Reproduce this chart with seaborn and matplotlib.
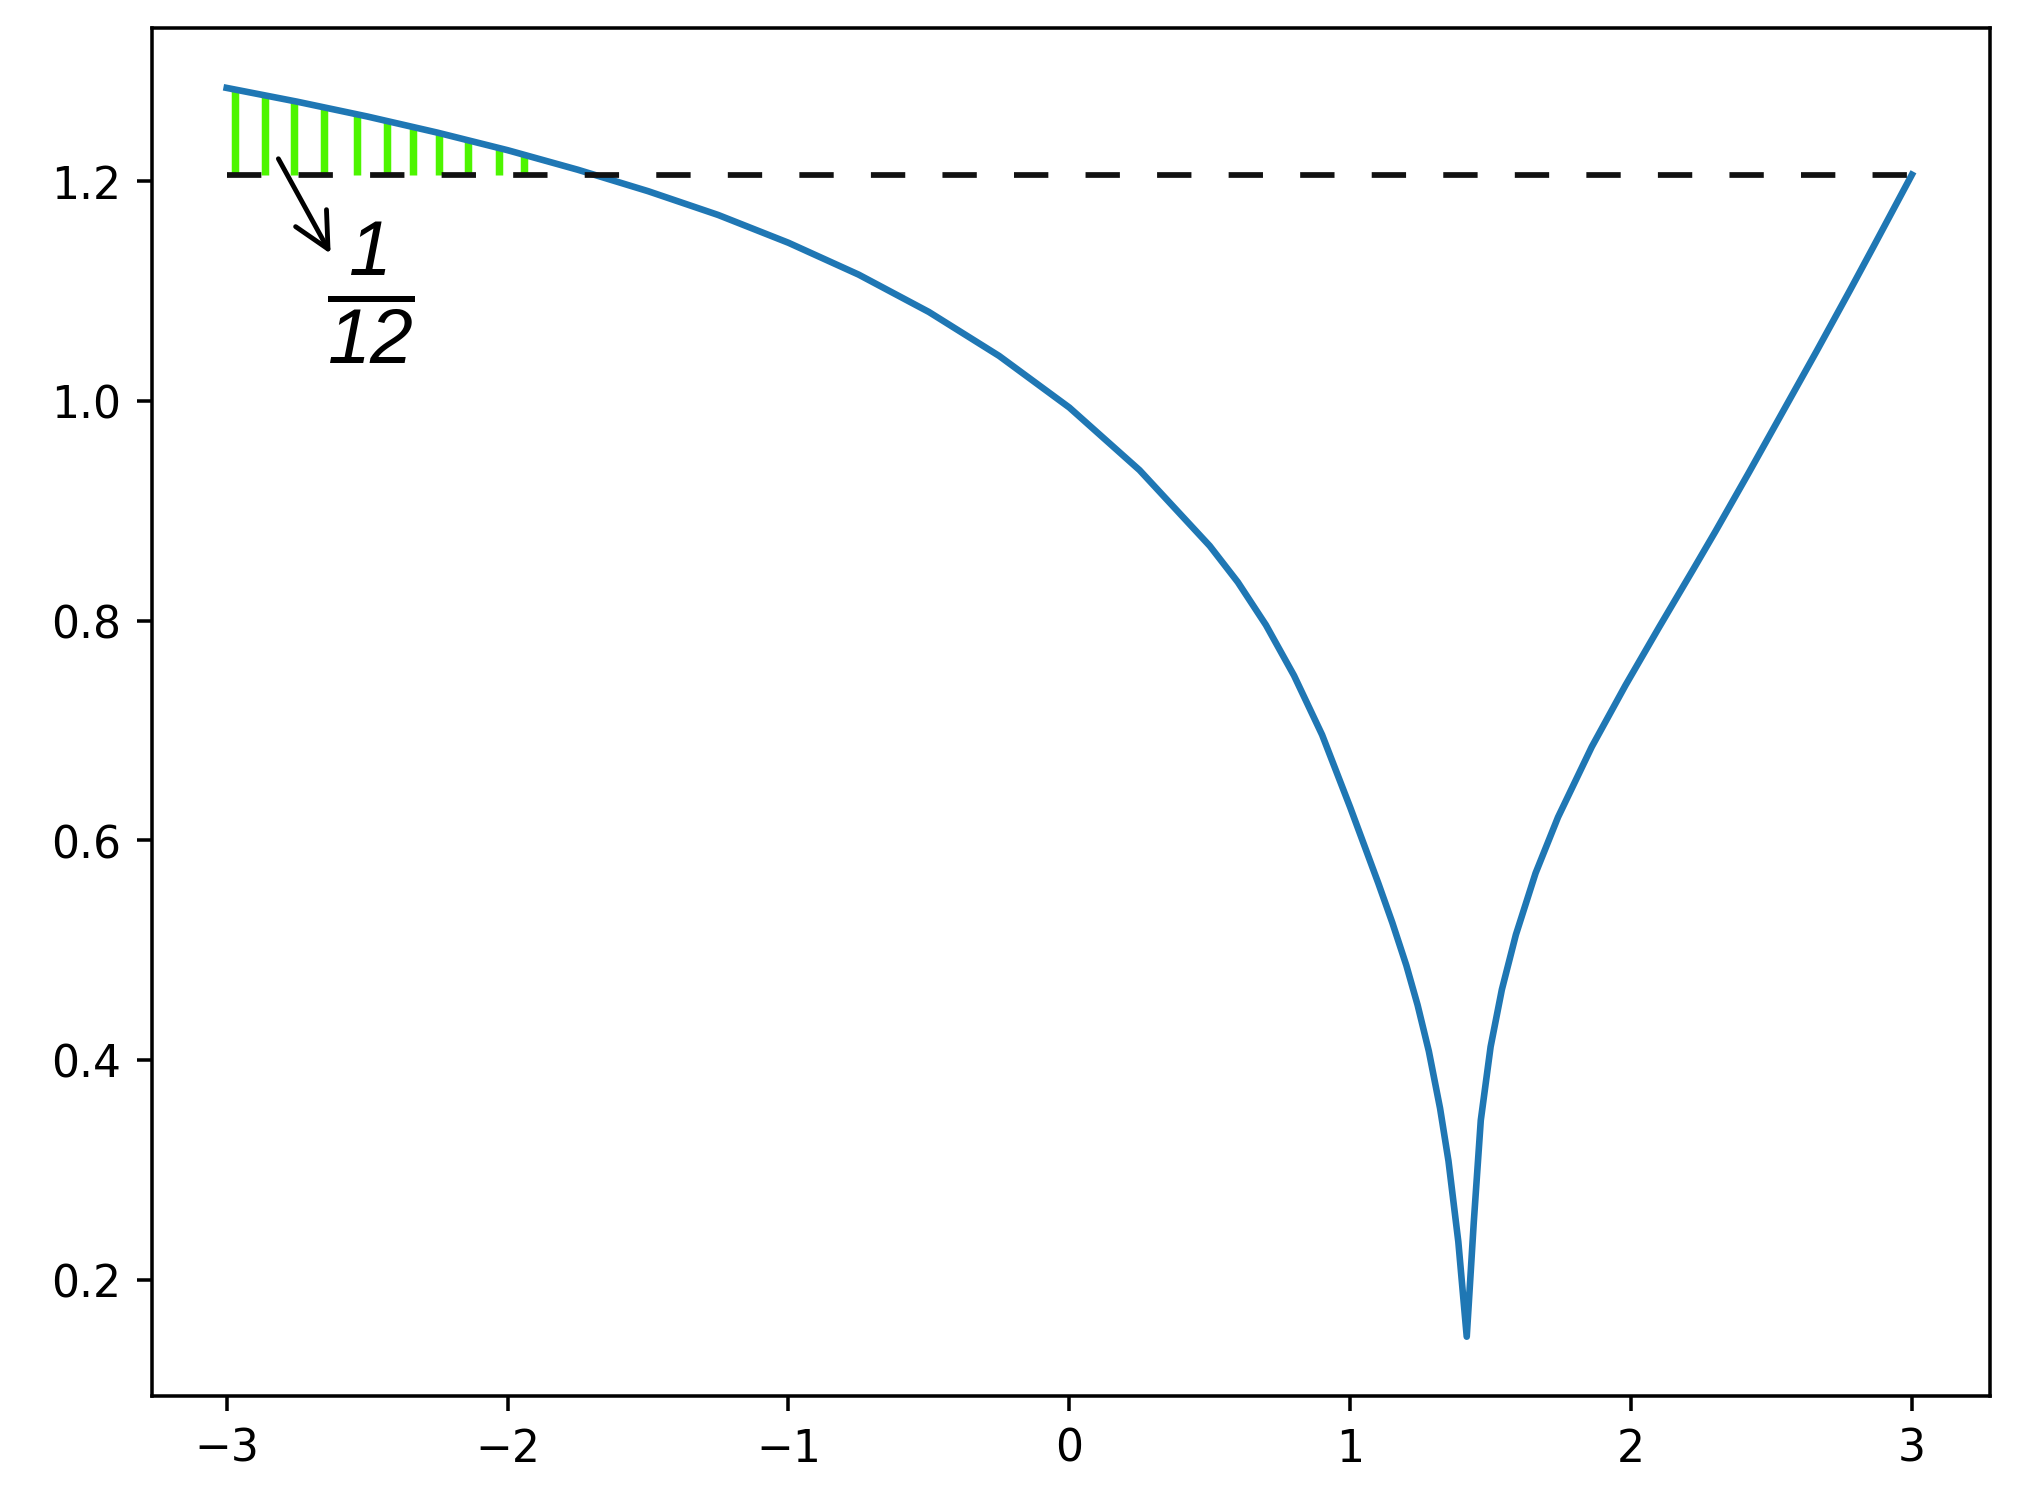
import numpy as np
import matplotlib
matplotlib.use("Agg")
import matplotlib.pyplot as plt
import seaborn as sns
import pandas as pd

# ---- data ----
curve_x = [-3.00, -2.75, -2.50, -2.25, -2.00, -1.75, -1.50, -1.25, -1.00, -0.75,
           -0.50, -0.25, 0.00, 0.25, 0.50, 0.60, 0.70, 0.80, 0.90, 1.00,
           1.10, 1.15, 1.20, 1.24, 1.28, 1.32, 1.35, 1.385, 1.415, 1.44,
           1.465, 1.50, 1.54, 1.59, 1.66, 1.74, 1.86, 1.98, 2.10, 2.22,
           2.30, 2.42, 2.54, 2.66, 2.78, 2.86, 2.93, 3.00]
curve_y = [1.285, 1.2725, 1.259, 1.2443, 1.2283, 1.2105, 1.191, 1.1693, 1.144, 1.115,
           1.081, 1.041, 0.994, 0.937, 0.868, 0.835, 0.796, 0.750, 0.696, 0.630,
           0.561, 0.525, 0.486, 0.450, 0.408, 0.356, 0.308, 0.2345, 0.148, 0.252,
           0.345, 0.412, 0.464, 0.514, 0.570, 0.621, 0.685, 0.741, 0.794, 0.846,
           0.881, 0.935, 0.990, 1.045, 1.101, 1.139, 1.1725, 1.206]
baseline_y = 1.206
green_x = [-2.97, -2.865, -2.76, -2.655, -2.535, -2.43, -2.335, -2.245, -2.14, -2.03, -1.94]
x_ticks = [-3, -2, -1, 0, 1, 2, 3]
y_ticks = [0.2, 0.4, 0.6, 0.8, 1.0, 1.2]
label_text = r"$\frac{1}{12}$"
arrow_tail = (-2.816, 1.2205)
arrow_head = (-2.630, 1.134)
label_pos = (-2.486, 1.098)

plt.rcParams["mathtext.fontset"] = "custom"
plt.rcParams["mathtext.it"] = "Liberation Sans:italic"
plt.rcParams["mathtext.rm"] = "Liberation Sans:italic"

fig = plt.figure(figsize=(2030 / 317, 1513 / 317), dpi=317)
ax = fig.add_axes([151.7 / 2030, 1 - 1397 / 1513, (1990 - 151.7) / 2030, (1397 - 28.5) / 1513])

df = pd.DataFrame({"x": curve_x, "y": curve_y})
sns.lineplot(data=df, x="x", y="y", ax=ax, color="#1f77b4", lw=1.5, zorder=2)

green_top = np.interp(green_x, curve_x, curve_y)
ax.vlines(green_x, baseline_y, green_top, colors="#4df500", lw=1.7, zorder=1)
ax.hlines(baseline_y, curve_x[0], curve_x[-1], colors="#111111", linestyles=(0, (6, 6.5)),
          lw=1.3, zorder=3)

ax.annotate("", xy=arrow_head, xytext=arrow_tail,
            arrowprops=dict(arrowstyle="->", color="k", lw=1.1, mutation_scale=20,
                            shrinkA=0, shrinkB=0))
ax.text(label_pos[0], label_pos[1], label_text, fontsize=25, ha="center", va="center")

ax.set_xlim(-3.267, 3.278)
ax.set_ylim(0.094, 1.340)
ax.set_xticks(x_ticks)
ax.set_yticks(y_ticks)
ax.set_xlabel("")
ax.set_ylabel("")

fig.savefig("out.png", dpi=317)
